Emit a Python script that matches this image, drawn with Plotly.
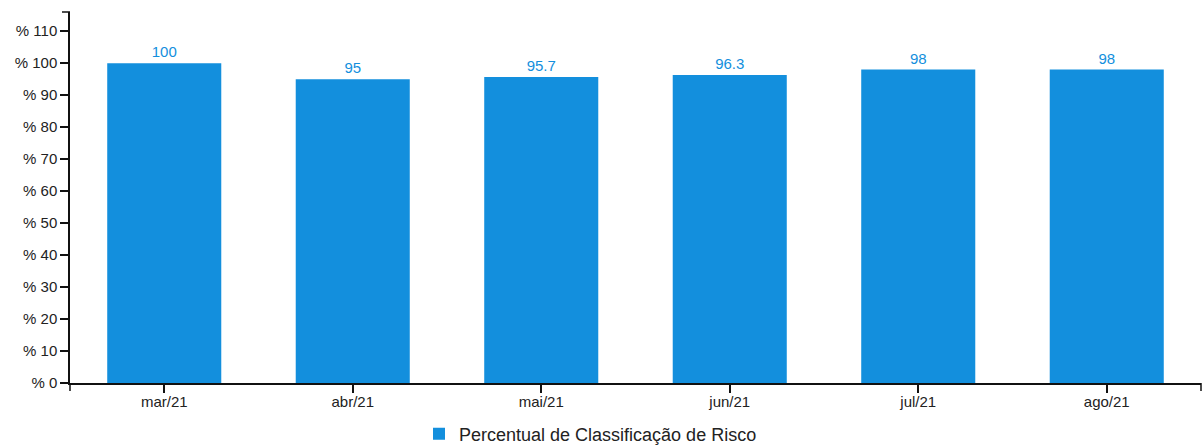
import plotly.graph_objects as go

categories = ["mar/21", "abr/21", "mai/21", "jun/21", "jul/21", "ago/21"]
values = [100, 95, 95.7, 96.3, 98, 98]
value_labels = ["100", "95", "95.7", "96.3", "98", "98"]
series_name = "Percentual de Classificação de Risco"
y_ticks = [0, 10, 20, 30, 40, 50, 60, 70, 80, 90, 100, 110]
y_tick_text = ["% " + str(v) for v in y_ticks]

BAR = "#138fdd"
FONT = "Liberation Sans, Arial, sans-serif"

fig = go.Figure()
fig.add_trace(go.Bar(
    x=categories, y=values, name=series_name,
    marker=dict(color=BAR, line=dict(width=0)),
    text=value_labels, textposition="outside", cliponaxis=False,
    textfont=dict(color=BAR, size=15, family=FONT),
    showlegend=True,
))

axis_line = dict(color="#111", width=1.5)
shapes = [
    dict(type="line", xref="paper", yref="paper", xsizemode="pixel", xanchor=0,
         x0=-8, x1=0, y0=1, y1=1, line=axis_line),
    dict(type="line", xref="paper", yref="paper", ysizemode="pixel", yanchor=0,
         x0=0, x1=0, y0=0, y1=-8, line=axis_line),
    dict(type="line", xref="paper", yref="paper", ysizemode="pixel", yanchor=0,
         x0=1, x1=1, y0=0, y1=-8, line=axis_line),
]

fig.update_layout(
    width=1203, height=445,
    margin=dict(l=70, r=2, t=12, b=62, autoexpand=False),
    plot_bgcolor="white", paper_bgcolor="white",
    bargap=0.395,
    font=dict(family=FONT, size=15, color="#222"),
    xaxis=dict(
        type="category", range=[-0.5, 5.5], automargin=False,
        showline=True, linecolor="#111", linewidth=1.5,
        ticks="outside", ticklen=8, tickwidth=1.5, tickcolor="#111",
        showgrid=False, zeroline=False, ticklabelstandoff=-4,
        tickfont=dict(size=15, color="#222"),
    ),
    yaxis=dict(
        range=[0, 116], tickvals=y_ticks, ticktext=y_tick_text, automargin=False,
        showline=True, linecolor="#111", linewidth=1.5,
        ticks="outside", ticklen=8, tickwidth=1.5, tickcolor="#111",
        showgrid=False, zeroline=False,
        tickfont=dict(size=15, color="#222"),
    ),
    showlegend=True,
    legend=dict(orientation="h", xref="container", x=419 / 1203, xanchor="left",
                yref="container", y=1 - 434 / 445, yanchor="middle",
                font=dict(size=18, color="#222"), itemwidth=30),
    shapes=shapes,
)

fig.write_html(
    "out.html",
    config={"displayModeBar": False},
    post_script="document.body.style.margin='0';document.body.style.overflow='hidden';",
)
